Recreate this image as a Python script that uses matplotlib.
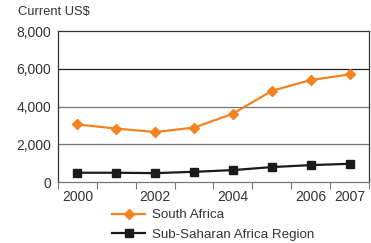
import matplotlib.pyplot as plt
from matplotlib import font_manager
from matplotlib.ticker import FixedLocator, FuncFormatter
import numpy as np

years = [2000, 2001, 2002, 2003, 2004, 2005, 2006, 2007]
year_labels = ['2000', '', '2002', '', '2004', '', '2006', '2007']
south_africa = [3050, 2830, 2650, 2880, 3620, 4830, 5400, 5700]
ssa_region = [490, 490, 470, 540, 630, 790, 895, 965]

# the reference uses a condensed face; take the narrow one if it is there
names = {f.name for f in font_manager.fontManager.ttflist}
if 'Liberation Sans Narrow' in names:
    fam, fs_tick, fs_leg, fs_title = 'Liberation Sans Narrow', 11.5, 11, 10.5
else:
    fam, fs_tick, fs_leg, fs_title = 'Liberation Sans', 10, 9.6, 9.3
plt.rcParams['font.family'] = [fam, 'DejaVu Sans']

fig = plt.figure(figsize=(3.71, 2.43), dpi=100)
ax = fig.add_axes([58 / 371, 1 - 182 / 243, 311 / 371, 151 / 243])

x = np.arange(len(years))
orange = '#f58220'
ax.plot(x, south_africa, color=orange, lw=1.6, marker='D', ms=5.5,
        label='South Africa', zorder=3)
ax.plot(x, ssa_region, color='#1a1a1a', lw=1.6, marker='s', ms=5.5,
        label='Sub-Saharan Africa Region', zorder=3)

ax.set_xlim(-0.5, 7.5)
ax.set_ylim(0, 8000)
ax.set_yticks([0, 2000, 4000, 6000, 8000])
ax.yaxis.set_major_formatter(FuncFormatter(lambda v, p: f'{int(v):,}'))
ax.tick_params(axis='y', length=0, pad=5, labelsize=fs_tick, colors='#333333')

ax.set_xticks(x)
ax.set_xticklabels(year_labels)
ax.xaxis.set_minor_locator(FixedLocator(np.arange(-0.5, 8, 1)))
ax.tick_params(axis='x', which='major', length=0, pad=6, labelsize=fs_tick,
               colors='#333333')
ax.tick_params(axis='x', which='minor', length=5, width=0.8, color='#777777')

# gridlines
ax.axhline(6000, color='#222222', lw=0.9, zorder=1)
ax.axhline(4000, color='#777777', lw=0.9, zorder=1)
ax.axhline(2000, color='#777777', lw=0.9, zorder=1)

for s in ['left', 'top', 'right']:
    ax.spines[s].set_color('#333333')
    ax.spines[s].set_linewidth(0.9)
ax.spines['bottom'].set_color('#777777')
ax.spines['bottom'].set_linewidth(0.9)

fig.text(18 / 371, 1 - 12 / 243, 'Current US$', fontsize=fs_title,
         color='#333333', va='center', ha='left')

leg = ax.legend(loc='center left', bbox_to_anchor=(112 / 371, 1 - 225 / 243),
                bbox_transform=fig.transFigure, frameon=False, fontsize=fs_leg,
                handlelength=2.5, handletextpad=0.5, labelspacing=0.55,
                borderaxespad=0, borderpad=0)
for t in leg.get_texts():
    t.set_color('#333333')

fig.savefig('out.png', dpi=100)
